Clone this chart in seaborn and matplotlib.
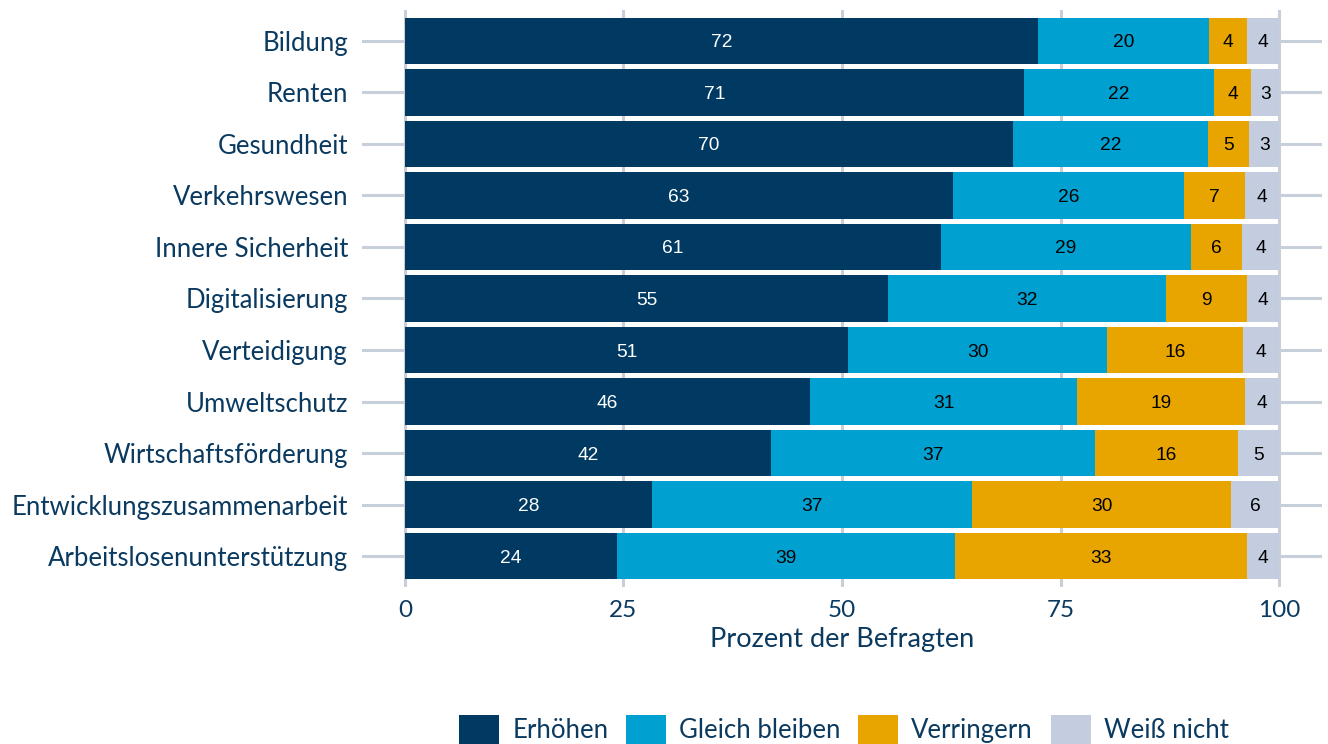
import pandas as pd
import matplotlib.pyplot as plt
import seaborn as sns
from matplotlib.patches import Patch

# data (percent of respondents)
bereiche = ["Bildung", "Renten", "Gesundheit", "Verkehrswesen", "Innere Sicherheit",
            "Digitalisierung", "Verteidigung", "Umweltschutz", "Wirtschaftsförderung",
            "Entwicklungszusammenarbeit", "Arbeitslosenunterstützung"]
erhoehen = [72.4, 70.8, 69.6, 62.7, 61.3, 55.3, 50.7, 46.3, 41.9, 28.3, 24.3]
gleich = [19.6, 21.8, 22.3, 26.4, 28.6, 31.7, 29.6, 30.6, 37.0, 36.6, 38.6]
verringern = [4.3, 4.2, 4.7, 7.0, 5.8, 9.3, 15.6, 19.2, 16.4, 29.6, 33.4]
weiss_nicht = [3.7, 3.2, 3.4, 3.9, 4.3, 3.7, 4.1, 3.9, 4.7, 5.5, 3.7]

series = ["Erhöhen", "Gleich bleiben", "Verringern", "Weiß nicht"]
colors = ["#003a63", "#00a0d1", "#e8a500", "#c3cddf"]
label_colors = ["white", "black", "black", "black"]
text_col = "#0b3a60"
grid_col = "#c7d0da"

df = pd.DataFrame({"Bereich": bereiche, "Erhöhen": erhoehen, "Gleich bleiben": gleich,
                   "Verringern": verringern, "Weiß nicht": weiss_nicht})
cum = df[series].cumsum(axis=1)

sns.set_style("white")
plt.rcParams["font.family"] = ["Lato", "DejaVu Sans"]

fig = plt.figure(figsize=(13.28, 7.44), dpi=100)
ax = fig.add_axes([0.2726, 0.211, 0.7229, 0.7756])

# stacked bars: draw cumulative totals from the back to the front
for s, c in reversed(list(zip(series, colors))):
    sns.barplot(x=cum[s], y=df["Bereich"], color=c, width=0.9, orient="h",
                saturation=1, linewidth=0, edgecolor="none", ax=ax, zorder=2)

# value labels centred in each segment
for s, lc in zip(series, label_colors):
    left = cum[s] - df[s]
    for i, v in enumerate(df[s]):
        ax.text(left[i] + v / 2, i, f"{v:.0f}", ha="center", va="center_baseline",
                color=lc, fontsize=13.8, family="Liberation Sans", zorder=3)

ax.set_xlim(-4.9, 104.9)
ax.set_ylim(10.6, -0.6)
ax.set_xticks([0, 25, 50, 75, 100])
ax.grid(True, axis="both", color=grid_col, linewidth=2.2, zorder=0)
ax.set_axisbelow(True)
for sp in ax.spines.values():
    sp.set_visible(False)
ax.tick_params(axis="y", length=0, labelsize=18.5, labelcolor=text_col, pad=10)
ax.tick_params(axis="x", length=0, labelsize=17.5, labelcolor=text_col, pad=9)
ax.set_ylabel("")
ax.set_xlabel("Prozent der Befragten", fontsize=19.5, color=text_col, labelpad=5)

handles = [Patch(facecolor=c, edgecolor="none", label=s) for s, c in zip(series, colors)]
fig.legend(handles=handles, loc="center", bbox_to_anchor=(0.6355, 0.019), ncol=4,
           frameon=False, fontsize=18.5, labelcolor=text_col, handlelength=1.55,
           handleheight=1.35, handletextpad=0.5, columnspacing=0.7)

fig.savefig("out.png", dpi=100)
